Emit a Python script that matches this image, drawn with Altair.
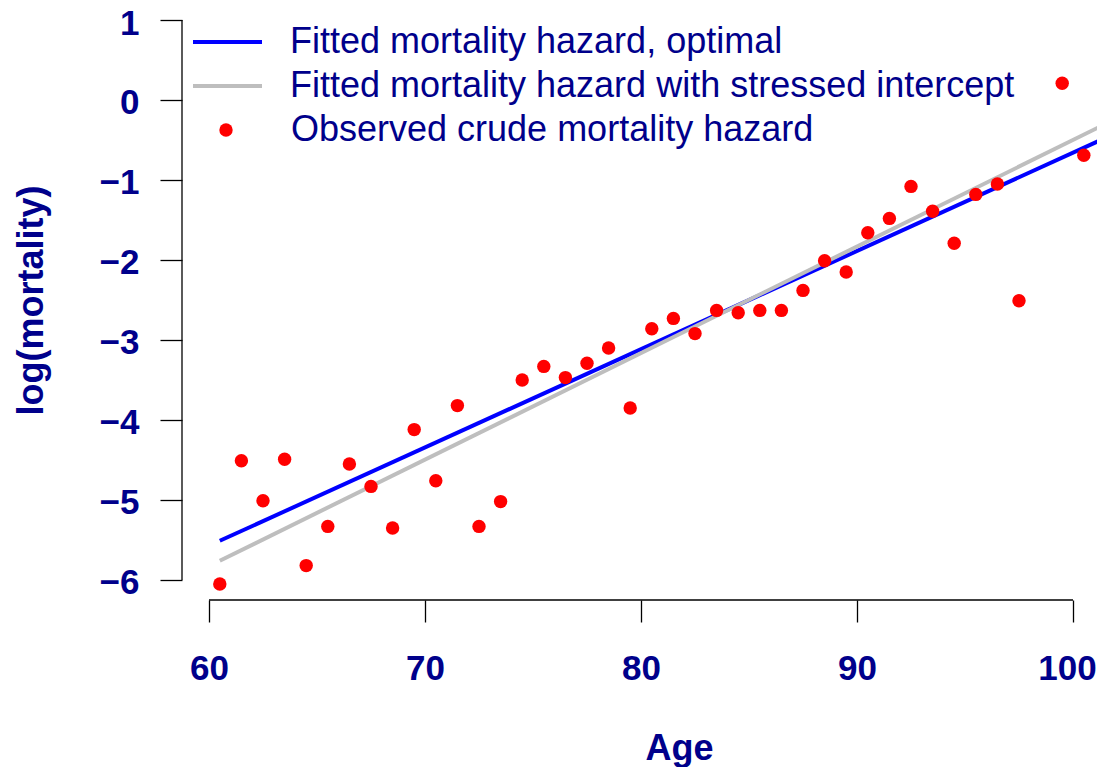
import altair as alt
import pandas as pd

# ---- data ----
ages = [60.5, 61.5, 62.5, 63.5, 64.5, 65.5, 66.5, 67.5, 68.5, 69.5,
        70.5, 71.5, 72.5, 73.5, 74.5, 75.5, 76.5, 77.5, 78.5, 79.5,
        80.5, 81.5, 82.5, 83.5, 84.5, 85.5, 86.5, 87.5, 88.5, 89.5,
        90.5, 91.5, 92.5, 93.5, 94.5, 95.5, 96.5, 97.5, 99.5, 100.5]
log_mortality = [-6.05, -4.51, -5.01, -4.49, -5.82, -5.33, -4.55, -4.83, -5.35, -4.12,
                 -4.76, -3.82, -5.33, -5.02, -3.50, -3.33, -3.47, -3.29, -3.10, -3.85,
                 -2.86, -2.73, -2.92, -2.63, -2.66, -2.63, -2.63, -2.38, -2.01, -2.15,
                 -1.66, -1.48, -1.08, -1.39, -1.79, -1.18, -1.05, -2.51, 0.21, -0.69]

fit_ages = [60.5, 101.5]
fit_optimal = [-5.51, -0.475]
fit_stressed = [-5.76, -0.30]

x_ticks = [60, 70, 80, 90, 100]
y_ticks = [-6, -5, -4, -3, -2, -1, 0, 1]

series_names = ["Fitted mortality hazard, optimal",
                "Fitted mortality hazard with stressed intercept"]
series_colors = ["#0000FF", "#BEBEBE"]
obs_name = "Observed crude mortality hazard"

# ---- layout / style ----
W, H = 915, 588
X_DOMAIN = [58.75, 58.75 + W / 21.6]
Y_DOMAIN = [-6.25, 1.1]
NAVY = "#00008B"
FONT = "Liberation Sans"
TICK_FS = 35

obs = pd.DataFrame({"age": ages, "logm": log_mortality, "kind": [obs_name] * len(ages)})
fits = pd.DataFrame({
    "age": fit_ages + fit_ages,
    "logm": fit_optimal + fit_stressed,
    "series": [series_names[0]] * 2 + [series_names[1]] * 2,
})
xline = pd.DataFrame({"a": [x_ticks[0]], "b": [x_ticks[-1]]})
yline = pd.DataFrame({"a": [y_ticks[0]], "b": [y_ticks[-1]]})

x_scale = alt.Scale(domain=X_DOMAIN, nice=False, zero=False)
y_scale = alt.Scale(domain=Y_DOMAIN, nice=False, zero=False)

x_axis = alt.Axis(
    values=x_ticks, title="Age", domain=False, grid=False,
    tickSize=22, tickWidth=1.3, tickColor="black",
    labelFontSize=TICK_FS, labelFontWeight="bold", labelColor=NAVY, labelFont=FONT,
    labelPadding=29, labelFlush=False, labelOverlap=False,
    labelOffset={"expr": f"datum.value == {x_ticks[-1]} ? -6 : 0"},
    titleFontSize=36, titleFontWeight="bold", titleColor=NAVY, titleFont=FONT,
    titleX=497, titleY=159, titleAlign="center", titleBaseline="alphabetic",
)
y_axis = alt.Axis(
    values=y_ticks, title="log(mortality)", domain=False, grid=False,
    tickSize=22, tickWidth=1.3, tickColor="black",
    labelFontSize=TICK_FS, labelFontWeight="bold", labelColor=NAVY, labelFont=FONT,
    labelPadding=21, labelFlush=False, labelOverlap=False,
    labelBaseline="alphabetic",
    labelOffset={"expr": f"datum.value == {y_ticks[-1]} ? 14 : 13"},
    titleFontSize=36, titleFontWeight="bold", titleColor=NAVY, titleFont=FONT,
    titleX=-140, titleY=288, titleAlign="center", titleBaseline="alphabetic",
    titleAngle=270,
)

x_rule = alt.Chart(xline).mark_rule(color="black", strokeWidth=1.3).encode(
    x=alt.X("a:Q", scale=x_scale, axis=x_axis),
    x2="b:Q",
    y=alt.value(H),
)
y_rule = alt.Chart(yline).mark_rule(color="black", strokeWidth=1.3).encode(
    y=alt.Y("a:Q", scale=y_scale, axis=y_axis),
    y2="b:Q",
    x=alt.value(0),
)

lines = alt.Chart(fits).mark_line(strokeWidth=4, clip=True).encode(
    x=alt.X("age:Q", scale=x_scale, axis=x_axis),
    y=alt.Y("logm:Q", scale=y_scale, axis=y_axis),
    color=alt.Color(
        "series:N",
        scale=alt.Scale(domain=series_names, range=series_colors),
        sort=series_names,
        legend=alt.Legend(
            title=None, orient="none", legendX=9, legendY=15, padding=0,
            symbolType="stroke", symbolSize=4761, symbolStrokeWidth=4,
            labelFontSize=36, labelFont=FONT, labelColor=NAVY, labelLimit=1000,
            labelOffset=26, clipHeight=30, rowPadding=8,
        ),
    ),
)

points = alt.Chart(obs).mark_circle(size=180, opacity=1).encode(
    x=alt.X("age:Q", scale=x_scale, axis=x_axis),
    y=alt.Y("logm:Q", scale=y_scale, axis=y_axis),
    fill=alt.Fill(
        "kind:N",
        scale=alt.Scale(domain=[obs_name], range=["#FF0000"]),
        legend=alt.Legend(
            title=None, orient="none", legendX=26, legendY=103, padding=0,
            symbolType="circle", symbolSize=180, symbolStrokeWidth=0, symbolOpacity=1,
            labelFontSize=36, labelFont=FONT, labelColor=NAVY, labelLimit=1000,
            labelOffset=47, clipHeight=30,
        ),
    ),
)

chart = alt.layer(x_rule, y_rule, lines, points).properties(
    width=W, height=H,
    autosize=alt.AutoSizeParams(type="none"),
    padding={"left": 174, "top": 4, "right": 0, "bottom": 167},
).configure_view(stroke=None)

chart.save("out.html", embed_options={"renderer": "svg", "actions": False})
